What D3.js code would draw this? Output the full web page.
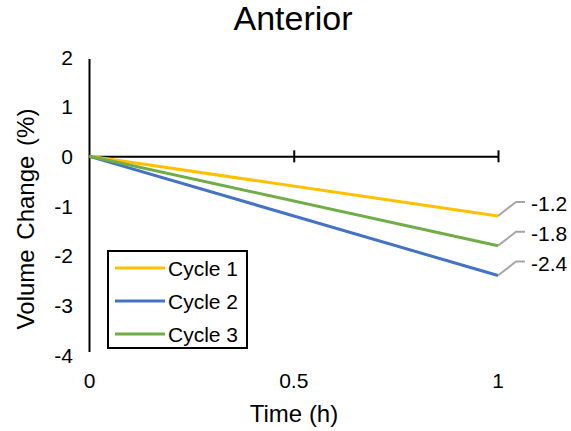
<!DOCTYPE html>
<html>
<head>
<meta charset="utf-8">
<script src="https://cdn.jsdelivr.net/npm/d3@7/dist/d3.min.js"></script>
<style>
  html, body { margin: 0; padding: 0; background: #fff; }
  svg { display: block; font-family: "Liberation Sans", Arial, sans-serif; }
</style>
</head>
<body>
<svg id="chart" width="571" height="431"></svg>
<script>
// Volume change over time for each cycle (anterior region)
const timePoints = [0, 1];
const seriesNames = ["Cycle 1", "Cycle 2", "Cycle 3"];
const cycle1 = [0, -1.2];
const cycle2 = [0, -2.4];
const cycle3 = [0, -1.8];
const seriesColors = ["#FFC000", "#4472C4", "#70AD47"];
const xTicks = [0, 0.5, 1];
const yTicks = [2, 1, 0, -1, -2, -3, -4];

const series = [cycle1, cycle2, cycle3].map((vals, i) => ({
  name: seriesNames[i],
  color: seriesColors[i],
  points: vals.map((v, j) => ({ t: timePoints[j], v }))
}));

// Plain hyphen for negative numbers
const fmtInt = d => String(d);
const fmtOne = d => d.toFixed(1);

const svg = d3.select("#chart");

const x = d3.scaleLinear().domain([0, 1]).range([89.5, 498]);
const y = d3.scaleLinear().domain([-4, 2]).range([355, 57]);

// Title
svg.append("text")
  .attr("x", 293).attr("y", 30)
  .attr("text-anchor", "middle")
  .attr("font-size", 34)
  .attr("fill", "#000")
  .text("Anterior");

// Vertical axis line (no tick marks), labels on the left
svg.append("line")
  .attr("x1", x(0)).attr("x2", x(0))
  .attr("y1", y(2) + 2).attr("y2", y(-4) - 3)
  .attr("stroke", "#000").attr("stroke-width", 2);

svg.append("g").selectAll("text")
  .data(yTicks)
  .join("text")
  .attr("x", 73)
  .attr("y", d => y(d) + 7.5)
  .attr("text-anchor", "end")
  .attr("font-size", 21)
  .attr("fill", "#000")
  .text(fmtInt);

// Horizontal axis through zero with crossing ticks
const xAxis = d3.axisBottom(x)
  .tickValues(xTicks.filter(d => d > 0))
  .tickSizeInner(0)
  .tickSizeOuter(0)
  .tickFormat("");
const gx = svg.append("g")
  .attr("transform", `translate(0,${y(0)})`)
  .call(xAxis);
gx.select(".domain").attr("stroke", "#000").attr("stroke-width", 2);
gx.selectAll(".tick line")
  .attr("y1", -6).attr("y2", 6)
  .attr("stroke", "#000").attr("stroke-width", 2);

// X tick labels at the bottom
svg.append("g").selectAll("text")
  .data(xTicks)
  .join("text")
  .attr("x", d => x(d))
  .attr("y", 388)
  .attr("text-anchor", "middle")
  .attr("font-size", 21)
  .attr("fill", "#000")
  .text(d => String(d));

// Axis titles
svg.append("text")
  .attr("x", 294).attr("y", 422)
  .attr("text-anchor", "middle")
  .attr("font-size", 24)
  .attr("fill", "#000")
  .text("Time (h)");

svg.append("text")
  .attr("transform", "translate(34,219) rotate(-90)")
  .attr("text-anchor", "middle")
  .attr("font-size", 24)
  .attr("word-spacing", 3)
  .attr("fill", "#000")
  .text("Volume Change (%)");

// Series lines
const line = d3.line().x(d => x(d.t)).y(d => y(d.v));
svg.append("g").selectAll("path")
  .data(series)
  .join("path")
  .attr("d", d => line(d.points))
  .attr("fill", "none")
  .attr("stroke", d => d.color)
  .attr("stroke-width", 3);

// End-value labels with leader lines
const ends = series.map(s => s.points[s.points.length - 1]);
const leaderG = svg.append("g");
ends.forEach(p => {
  const px = x(p.t), py = y(p.v);
  const ky = py - 14;
  leaderG.append("path")
    .attr("d", `M${px},${py} L${px + 18},${ky} L${px + 27},${ky}`)
    .attr("fill", "none")
    .attr("stroke", "#A5A5A5")
    .attr("stroke-width", 2);
  leaderG.append("text")
    .attr("x", px + 33)
    .attr("y", ky + 9.5)
    .attr("font-size", 21)
    .attr("fill", "#000")
    .text(fmtOne(p.v));
});

// Legend
const lg = svg.append("g");
lg.append("rect")
  .attr("x", 108).attr("y", 251)
  .attr("width", 139).attr("height", 97)
  .attr("fill", "#fff")
  .attr("stroke", "#000").attr("stroke-width", 2);
series.forEach((s, i) => {
  const ly = 268 + i * 33;
  lg.append("line")
    .attr("x1", 115).attr("x2", 165)
    .attr("y1", ly).attr("y2", ly)
    .attr("stroke", s.color).attr("stroke-width", 3);
  lg.append("text")
    .attr("x", 168).attr("y", ly + 7.5)
    .attr("font-size", 21)
    .attr("fill", "#000")
    .text(s.name);
});
</script>
</body>
</html>
